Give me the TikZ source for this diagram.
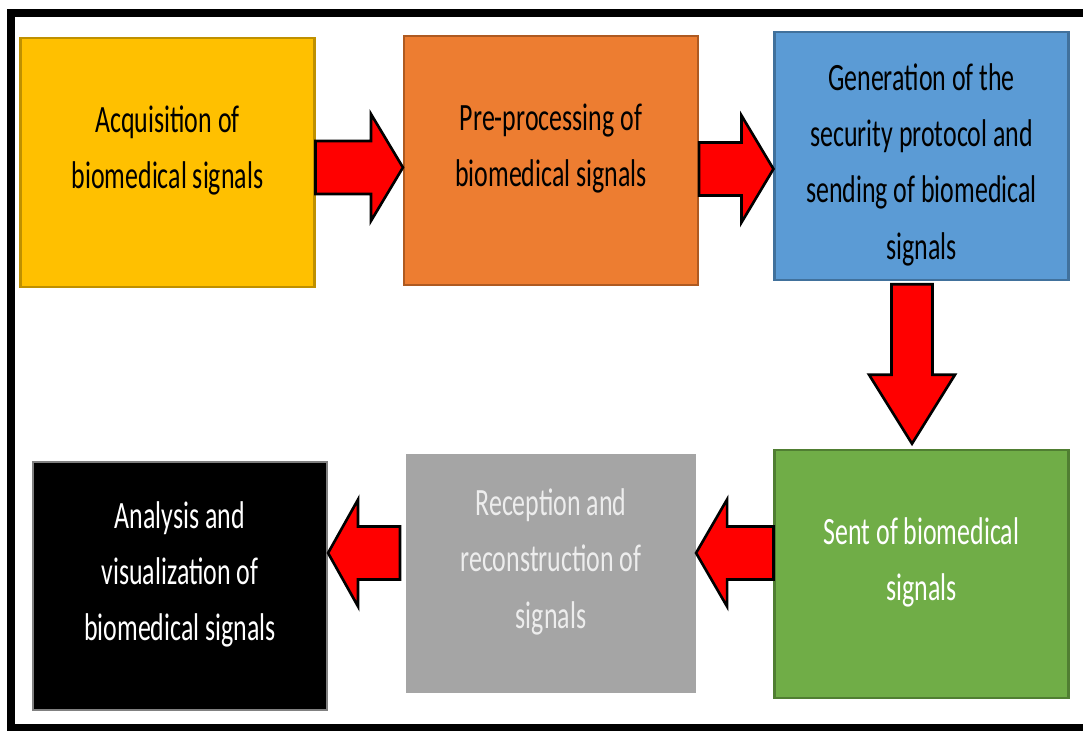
\documentclass[tikz,border=0pt]{standalone}
\usepackage{fontspec}
\setmainfont{Carlito}[FakeStretch=0.67]
\usepackage{tikz}
\usetikzlibrary{calc}
\usepackage{xcolor}
\definecolor{Amber}{HTML}{FFC000}
\definecolor{AmberDark}{HTML}{BF9000}
\definecolor{Flame}{HTML}{ED7D31}
\definecolor{FlameDark}{HTML}{AE5A21}
\definecolor{Sky}{HTML}{5B9BD5}
\definecolor{SkyDark}{HTML}{41719C}
\definecolor{Leaf}{HTML}{70AD47}
\definecolor{LeafDark}{HTML}{507E32}
\definecolor{Ash}{HTML}{A5A5A5}
\definecolor{AshLight}{HTML}{EDEDED}
\newcommand{\lift}{\rule[-.6cm]{0pt}{.6cm}}
\newcommand{\drop}{\rule{0pt}{.88cm}}
\newcommand{\harrow}[3]{\draw[fatarrow] ($(#1)+(0,.53)$) -- ($(#2)+(#3,.53)$) -- ($(#2)+(#3,1.07)$) -- (#2)
    -- ($(#2)+(#3,-1.07)$) -- ($(#2)+(#3,-.53)$) -- ($(#1)+(0,-.53)$) -- cycle;}
\tikzset{
  stage/.style={draw, line width=1.2pt, minimum width=5.88cm, minimum height=4.97cm,
    align=center, font=\fontsize{22}{32}\selectfont},
  fatarrow/.style={draw=black, fill=red, line width=1.5pt, line join=miter}
}

\begin{document}
\begin{tikzpicture}
    \useasboundingbox (0,0) rectangle (21.66,14.62);
    \draw[line width=.16cm] (21.66,14.35) -- (0.22,14.35) -- (0.22,0.06) -- (21.66,0.06);

    \node[stage, fill=Amber, draw=AmberDark] (acq) at (3.35,11.37) {Acquisition of\\biomedical signals\lift};
    \node[stage, fill=Flame, draw=FlameDark] (pre) at (11.02,11.41) {Pre-processing of\\biomedical signals\lift};
    \node[stage, fill=Sky, draw=SkyDark] (gen) at (18.43,11.5) {\drop Generation of the\\security protocol and\\sending of biomedical\\signals};
    \node[stage, fill=Leaf, draw=LeafDark, text=white] (sent) at (18.43,3.14) {Sent of biomedical\\signals\lift};
    \node[stage, fill=Ash, draw=Ash, text=AshLight, minimum width=5.76cm, minimum height=4.74cm] (rec) at (11.02,3.15) {Reception and\\reconstruction of\\signals\lift};
    \node[stage, fill=black, draw=gray, text=white] (ana) at (3.6,2.9) {Analysis and\\visualization of\\biomedical signals\lift};

    \coordinate (a1s) at ($(acq.east)+(0,-.1)$);
    \coordinate (a1t) at (a1s -| pre.west);
    \harrow{a1s}{a1t}{-.64}
    \coordinate (a2s) at ($(pre.east)+(0,-.17)$);
    \coordinate (a2t) at (a2s -| gen.west);
    \harrow{a2s}{a2t}{-.64}

    \coordinate (a3s) at ($(gen.south)+(-.19,-.06)$);
    \coordinate (a3t) at ($(a3s |- sent.north)+(0,.1)$);
    \draw[fatarrow] ($(a3s)+(-.41,0)$) -- ($(a3t)+(-.41,1.38)$) -- ($(a3t)+(-.86,1.38)$) -- (a3t)
        -- ($(a3t)+(.86,1.38)$) -- ($(a3t)+(.41,1.38)$) -- ($(a3s)+(.41,0)$) -- cycle;

    \coordinate (a4s) at ($(sent.west)+(0,.42)$);
    \coordinate (a4t) at (a4s -| rec.east);
    \harrow{a4s}{a4t}{.62}
    \coordinate (a5s) at ($(rec.west)+(-.12,.41)$);
    \coordinate (a5t) at (a5s -| ana.east);
    \harrow{a5s}{a5t}{.6}
\end{tikzpicture}
\end{document}
